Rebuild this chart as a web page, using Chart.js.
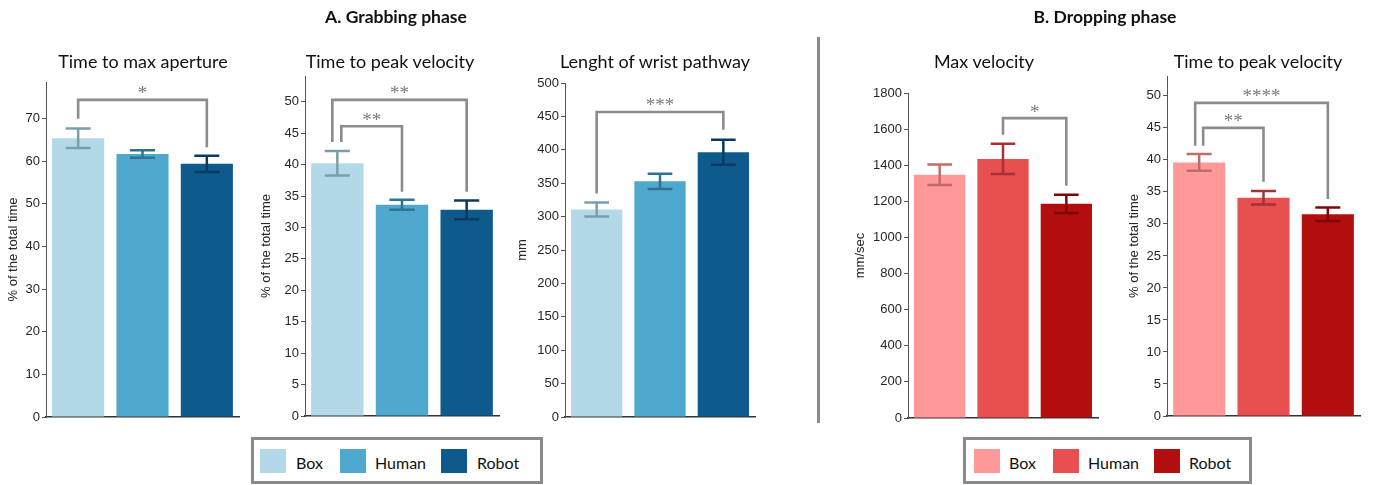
<!DOCTYPE html>
<html><head><meta charset="utf-8">
<script src="https://cdn.jsdelivr.net/npm/chart.js@4.4.0/dist/chart.umd.min.js"></script>
<style>
body{margin:0;width:1374px;height:485px;background:#fff;position:relative;overflow:hidden;font-family:Lato, "Open Sans", sans-serif;}
canvas{position:absolute;top:0;}
.hdr{position:absolute;font-weight:bold;font-size:17.5px;color:#111;transform:translate(-50%,-50%);white-space:nowrap;}
.ttl{position:absolute;font-size:18px;color:#111;transform:translate(-50%,-50%);white-space:nowrap;}
.legend{position:absolute;border:3px solid #8a8a8a;box-sizing:border-box;background:#fff;}
.sw{position:absolute;width:26px;height:24px;}
.lt{position:absolute;font-size:16px;color:#111;transform:translateY(-50%);white-space:nowrap;}
.divider{position:absolute;left:817px;top:37px;width:3px;height:386px;background:#8a8a8a;}
</style></head>
<body>
<div class="divider"></div>
<script>
// ---------- data ----------
const categories = ['Box', 'Human', 'Robot'];
const phaseTitles = ['A. Grabbing phase', 'B. Dropping phase'];
const panelTitles = ['Time to max aperture', 'Time to peak velocity', 'Lenght of wrist pathway', 'Max velocity', 'Time to peak velocity'];
const yAxisTitles = ['% of the total time', '% of the total time', 'mm', 'mm/sec', '% of the total time'];

const grabMaxApertureMean = [65.4, 61.7, 59.4];
const grabMaxApertureErr  = [2.3, 0.9, 1.9];
const grabPeakVelMean     = [40.2, 33.6, 32.8];
const grabPeakVelErr      = [1.95, 0.8, 1.5];
const grabWristMean       = [310.5, 352.8, 396.3];
const grabWristErr        = [10.5, 11.3, 18.7];
const dropMaxVelMean      = [1347, 1435, 1186];
const dropMaxVelErr       = [57, 84, 51];
const dropPeakVelMean     = [39.6, 34.1, 31.5];
const dropPeakVelErr      = [1.3, 1.05, 1.05];

const yMaxes = [78.6, 54.1, 500, 1800, 53.1];
const ySteps = [10, 5, 50, 200, 5];

// significance brackets: from/to category index, bracket top, leg end values, label
const sigGrabAperture = [{from: 0, to: 2, top: 74.4, fromEnd: 70, toEnd: 63.3, label: '*'}];
const sigGrabPeakVel  = [{from: 0, to: 2, top: 50.3, fromEnd: 43.6, toEnd: 35.7, label: '**'},
                         {from: 0, to: 1, top: 46.1, fromEnd: 43.6, toEnd: 35.7, label: '**'}];
const sigGrabWrist    = [{from: 0, to: 2, top: 456.6, fromEnd: 334.4, toEnd: 430.2, label: '***'}];
const sigDropMaxVel   = [{from: 1, to: 2, top: 1661, fromEnd: 1569, toEnd: 1286, label: '*'}];
const sigDropPeakVel  = [{from: 0, to: 2, top: 48.9, fromEnd: 42.2, toEnd: 33.9, label: '****'},
                         {from: 0, to: 1, top: 45.0, fromEnd: 42.2, toEnd: 36.6, label: '**'}];

// ---------- styles ----------
const blue    = ['#b3d9e8', '#4fa8cd', '#0f5a8c'];
const blueErr = ['#7b9eaa', '#2f7394', '#0a3b5f'];
const red     = ['#ff9999', '#e84f4f', '#b30e0e'];
const redErr  = ['#c26a6c', '#a73235', '#7c0909'];

const layouts = [
  {left: 0,    axisX: 46,    right: 239,  top: 82,   bottom: 417, pad: 6, nudge: [[0, 0]]},
  {left: 256,  axisX: 305,   right: 499,  top: 76,   bottom: 416, pad: 3, nudge: [[-5, 0], [4, 0]]},
  {left: 512,  axisX: 565,   right: 755,  top: 83,   bottom: 417, pad: 3, nudge: [[0, 0]]},
  {left: 850,  axisX: 908,   right: 1098, top: 93,   bottom: 418, pad: 3, nudge: [[0, 0]]},
  {left: 1124, axisX: 1167,  right: 1360, top: 76,   bottom: 416, pad: 3, nudge: [[-4, 0], [4, 0]]}
];

const panels = [
  {mean: grabMaxApertureMean, err: grabMaxApertureErr, sig: sigGrabAperture, col: blue, ecol: blueErr},
  {mean: grabPeakVelMean,     err: grabPeakVelErr,     sig: sigGrabPeakVel,  col: blue, ecol: blueErr},
  {mean: grabWristMean,       err: grabWristErr,       sig: sigGrabWrist,    col: blue, ecol: blueErr},
  {mean: dropMaxVelMean,      err: dropMaxVelErr,      sig: sigDropMaxVel,   col: red,  ecol: redErr},
  {mean: dropPeakVelMean,     err: dropPeakVelErr,     sig: sigDropPeakVel,  col: red,  ecol: redErr}
];

const CANVAS_H = 430;

const errorBarPlugin = {
  id: 'errorBars',
  afterDatasetsDraw(chart, args, opts) {
    const ctx = chart.ctx, y = chart.scales.y;
    const meta = chart.getDatasetMeta(0);
    meta.data.forEach((el, i) => {
      const m = opts.mean[i], e = opts.err[i];
      const yt = y.getPixelForValue(m + e), yb = y.getPixelForValue(m - e);
      const hw = el.width * 0.24;
      ctx.save();
      ctx.strokeStyle = opts.colors[i];
      ctx.lineWidth = 2.5;
      ctx.beginPath();
      ctx.moveTo(el.x, yt); ctx.lineTo(el.x, yb);
      ctx.moveTo(el.x - hw, yt); ctx.lineTo(el.x + hw, yt);
      ctx.moveTo(el.x - hw, yb); ctx.lineTo(el.x + hw, yb);
      ctx.stroke();
      ctx.restore();
    });
  }
};

const bracketPlugin = {
  id: 'brackets',
  afterDatasetsDraw(chart, args, opts) {
    const ctx = chart.ctx, y = chart.scales.y;
    const meta = chart.getDatasetMeta(0);
    opts.sig.forEach((s, k) => {
      const nud = opts.nudge[k] || [0, 0];
      const x1 = meta.data[s.from].x + nud[0];
      const x2 = meta.data[s.to].x + nud[1];
      const yt = y.getPixelForValue(s.top);
      const y1 = y.getPixelForValue(s.fromEnd);
      const y2 = y.getPixelForValue(s.toEnd);
      ctx.save();
      ctx.strokeStyle = '#8c8c8c';
      ctx.lineWidth = 2.6;
      ctx.lineJoin = 'miter';
      ctx.beginPath();
      ctx.moveTo(x1, y1); ctx.lineTo(x1, yt); ctx.lineTo(x2, yt); ctx.lineTo(x2, y2);
      ctx.stroke();
      ctx.fillStyle = '#7a7a7a';
      ctx.font = '19px "Liberation Serif", serif';
      ctx.textAlign = 'center';
      ctx.textBaseline = 'alphabetic';
      ctx.fillText(s.label, (x1 + x2) / 2, yt - 0.5);
      ctx.restore();
    });
  }
};

const tickFont = {family: '"Liberation Sans", Arial, sans-serif', size: 13};

panels.forEach((p, idx) => {
  const L = layouts[idx];
  const c = document.createElement('canvas');
  const W = L.right - L.left + 2;
  c.width = W; c.height = CANVAS_H;
  c.style.left = L.left + 'px';
  c.style.width = W + 'px'; c.style.height = CANVAS_H + 'px';
  document.body.appendChild(c);

  new Chart(c, {
    type: 'bar',
    data: {
      labels: categories,
      datasets: [{data: p.mean, backgroundColor: p.col, borderWidth: 0,
                  categoryPercentage: 0.9, barPercentage: 0.9}]
    },
    options: {
      responsive: false,
      animation: false,
      devicePixelRatio: 1,
      layout: {padding: {left: 0, right: 2, top: L.top, bottom: 0}},
      plugins: {
        legend: {display: false},
        tooltip: {enabled: false},
        errorBars: {mean: p.mean, err: p.err, colors: p.ecol},
        brackets: {sig: p.sig, nudge: L.nudge}
      },
      scales: {
        x: {
          grid: {display: false},
          ticks: {display: false},
          border: {display: true, color: '#333', width: 1.5},
          afterFit(s) { s.height = CANVAS_H - L.bottom; }
        },
        y: {
          min: 0, max: yMaxes[idx],
          grid: {display: true, drawOnChartArea: false, drawTicks: true, tickLength: 4, color: '#555'},
          border: {display: true, color: '#555', width: 1},
          ticks: {stepSize: ySteps[idx], includeBounds: false, font: tickFont, color: '#262626', padding: 2,
                  callback: v => String(v)},
          afterBuildTicks(s) { s.ticks = s.ticks.filter(t => Math.abs(t.value / ySteps[idx] - Math.round(t.value / ySteps[idx])) < 1e-6); },
          title: {display: true, text: yAxisTitles[idx], font: tickFont, color: '#262626', padding: {top: L.pad, bottom: 0}},
          afterFit(s) { s.width = L.axisX - L.left; }
        }
      }
    },
    plugins: [errorBarPlugin, bracketPlugin]
  });
});

// headers and titles (text)
const hdrPos = [[396, 16], [1105, 16]];
phaseTitles.forEach((t, i) => {
  const d = document.createElement('div'); d.className = 'hdr'; d.textContent = t;
  d.style.left = hdrPos[i][0] + 'px'; d.style.top = hdrPos[i][1] + 'px';
  document.body.appendChild(d);
});
const titlePos = [[143, 61], [390, 61], [655, 61], [984, 61], [1258, 61]];
panelTitles.forEach((t, i) => {
  const d = document.createElement('div'); d.className = 'ttl'; d.textContent = t;
  d.style.left = titlePos[i][0] + 'px'; d.style.top = titlePos[i][1] + 'px';
  document.body.appendChild(d);
});

// legends
const legends = [
  {box: [251, 437, 292, 47], sw: [260, 340, 441], tx: [296, 375, 477], col: blue},
  {box: [963, 437, 289, 47], sw: [974, 1053, 1154], tx: [1009, 1088, 1189], col: red}
];
legends.forEach(lg => {
  const b = document.createElement('div'); b.className = 'legend';
  b.style.left = lg.box[0] + 'px'; b.style.top = lg.box[1] + 'px';
  b.style.width = lg.box[2] + 'px'; b.style.height = lg.box[3] + 'px';
  document.body.appendChild(b);
  categories.forEach((cat, i) => {
    const s = document.createElement('div'); s.className = 'sw';
    s.style.left = lg.sw[i] + 'px'; s.style.top = '449px'; s.style.background = lg.col[i];
    document.body.appendChild(s);
    const t = document.createElement('div'); t.className = 'lt'; t.textContent = cat;
    t.style.left = lg.tx[i] + 'px'; t.style.top = '462px';
    document.body.appendChild(t);
  });
});
</script>
</body></html>
